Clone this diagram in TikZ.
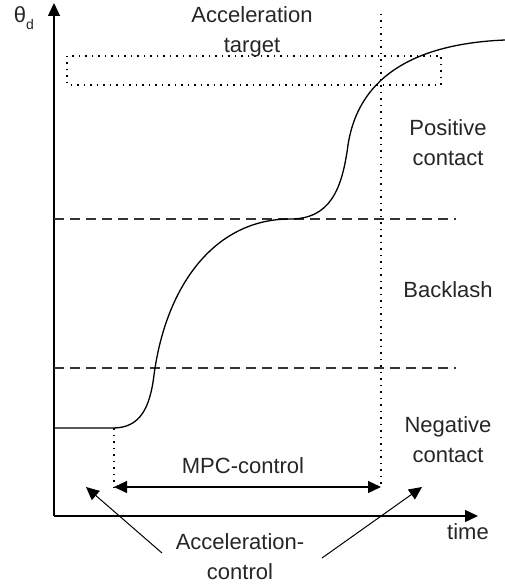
\documentclass[tikz,border=0pt]{standalone}
\usepackage{fontspec}
\setmainfont{Liberation Sans}
\usetikzlibrary{arrows.meta}

\tikzset{
  lbl/.style={align=center, font=\fontsize{22}{30}\selectfont, text=black!85, inner sep=0pt},
  tip/.style={-{Triangle[length=13pt,width=12pt]}},
  bound/.style={densely dashed, dash pattern=on 10pt off 6pt, line width=1.1pt, black!80},
  dots/.style={dash pattern=on 1.5pt off 5pt, line width=1.3pt}
}

\begin{document}
\begin{tikzpicture}[x=1pt, y=-1pt, line width=1.3pt]
            \useasboundingbox (0,0) rectangle (505,588);
            % axes
            \coordinate (O) at (54,516);
            \coordinate (ytop) at (54,3);
            \coordinate (xend) at (478,516);
            \draw[tip] (O) -- (ytop);
            \draw[tip] (O) -- (xend);
            \node[lbl] (theta) at (24,18) {θ\raisebox{-0.6ex}{\fontsize{14}{14}\selectfont d}};
            \node[lbl] (time) at (468,532) {time};

            % backlash limits
            \coordinate (bu0) at (54,219);
            \coordinate (bu1) at (456,219);
            \coordinate (bl0) at (54,368);
            \coordinate (bl1) at (456,368);
            \draw[bound] (bu0) -- (bu1);
            \draw[bound] (bl0) -- (bl1);

            % acceleration target
            \draw[dots] (67,56) rectangle (441,85);
            \node[lbl] (target) at (252,32) {Acceleration\\target};

            % switching times
            \coordinate (sL0) at (114,428);
            \coordinate (mpcL) at (114,487);
            \coordinate (sR0) at (381,14);
            \coordinate (mpcR) at (381,487);
            \draw[dots] (sL0) -- (mpcL);
            \draw[dots] (sR0) -- (mpcR);
            \draw[{Triangle[length=13pt,width=12pt]}-{Triangle[length=13pt,width=12pt]}] (mpcL) -- (mpcR);
            \node[lbl] (mpc) at (243,466) {MPC-control};

            % response
            \draw (54,428) -- (113,428)
              .. controls (140,428) and (150,408) .. (154,375)
              .. controls (166,285) and (215,219) .. (290,219)
              .. controls (330,219) and (342,190) .. (348,145)
              .. controls (355,100) and (385,45) .. (505,40);

            % regions
            \node[lbl] (pos) at (448,143) {Positive\\contact};
            \node[lbl] (back) at (448,290) {Backlash};
            \node[lbl] (neg) at (448,440) {Negative\\contact};

            % acceleration control
            \node[lbl] (acc) at (240,557) {Acceleration-\\control};
            \coordinate (aL0) at (162,553);
            \coordinate (aL1) at (86,487);
            \coordinate (aR0) at (322,558);
            \coordinate (aR1) at (422,487);
            \draw[tip, line width=1pt] (aL0) -- (aL1);
            \draw[tip, line width=1pt] (aR0) -- (aR1);
\end{tikzpicture}
\end{document}
